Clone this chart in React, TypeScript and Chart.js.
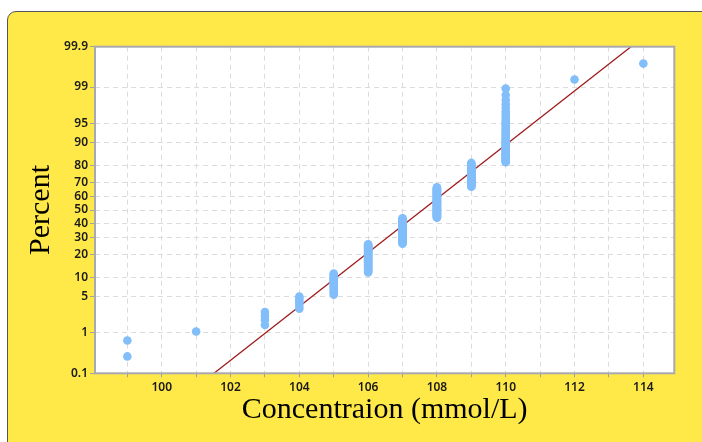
import { useEffect, useRef } from 'react';
import { Chart, registerables } from 'chart.js';

Chart.register(...registerables);

// Observed concentration values and how many observations sit at each value
const concentrations = [99, 101, 103, 104, 105, 106, 107, 108, 109, 110, 112, 114];
const counts = [2, 1, 4, 6, 16, 36, 45, 57, 37, 44, 1, 1];

// Probability-axis tick labels (percent)
const percentTicks = [0.1, 1, 5, 10, 20, 30, 40, 50, 60, 70, 80, 90, 95, 99, 99.9];
const percentLabels = ['0.1', '1', '5', '10', '20', '30', '40', '50', '60', '70', '80', '90', '95', '99', '99.9'];

// x-axis grid positions and labels
const xGridValues = [99, 100, 101, 102, 103, 104, 105, 106, 107, 108, 109, 110, 111, 112, 113, 114];
const xLabelValues = [100, 102, 104, 106, 108, 110, 112, 114];

// Fitted normal line (mean, standard deviation)
const fitMean = 107.58;
const fitSd = 1.961;

const xMin = 98.06;
const xMax = 114.9;

// inverse standard normal CDF (Acklam)
function qnorm(p: number): number {
  const a = [-3.969683028665376e1, 2.209460984245205e2, -2.759285104469687e2, 1.38357751867269e2, -3.066479806614716e1, 2.506628277459239];
  const b = [-5.447609879822406e1, 1.615858368580409e2, -1.556989798598866e2, 6.680131188771972e1, -1.328068155288572e1];
  const c = [-7.784894002430293e-3, -3.223964580411365e-1, -2.400758277161838, -2.549732539343734, 4.374664141464968, 2.938163982698783];
  const d = [7.784695709041462e-3, 3.224671290700398e-1, 2.445134137142996, 3.754408661907416];
  const plow = 0.02425;
  const phigh = 1 - plow;
  if (p < plow) {
    const q = Math.sqrt(-2 * Math.log(p));
    return (((((c[0] * q + c[1]) * q + c[2]) * q + c[3]) * q + c[4]) * q + c[5]) / ((((d[0] * q + d[1]) * q + d[2]) * q + d[3]) * q + 1);
  }
  if (p <= phigh) {
    const q = p - 0.5;
    const r = q * q;
    return ((((((a[0] * r + a[1]) * r + a[2]) * r + a[3]) * r + a[4]) * r + a[5]) * q) / (((((b[0] * r + b[1]) * r + b[2]) * r + b[3]) * r + b[4]) * r + 1);
  }
  const q = Math.sqrt(-2 * Math.log(1 - p));
  return -(((((c[0] * q + c[1]) * q + c[2]) * q + c[3]) * q + c[4]) * q + c[5]) / ((((d[0] * q + d[1]) * q + d[2]) * q + d[3]) * q + 1);
}

const plotFrame = {
  id: 'plotFrame',
  beforeDraw(chart: any) {
    const { ctx, chartArea } = chart;
    ctx.save();
    ctx.fillStyle = '#ffffff';
    ctx.fillRect(chartArea.left, chartArea.top, chartArea.width, chartArea.height);
    ctx.restore();
  },
  afterDraw(chart: any) {
    const { ctx, chartArea } = chart;
    ctx.save();
    ctx.strokeStyle = '#a9a9b1';
    ctx.lineWidth = 2;
    ctx.strokeRect(chartArea.left, chartArea.top, chartArea.width, chartArea.height);
    ctx.restore();
  },
};

export default function App() {
  const canvasRef = useRef<HTMLCanvasElement | null>(null);

  useEffect(() => {
    if (!canvasRef.current) return;
    const n = counts.reduce((s, v) => s + v, 0);
    const points: { x: number; y: number }[] = [];
    let rank = 0;
    concentrations.forEach((x, i) => {
      for (let k = 0; k < counts[i]; k++) {
        rank += 1;
        points.push({ x, y: qnorm((rank - 0.3) / (n + 0.4)) });
      }
    });
    const zMin = qnorm(percentTicks[0] / 100);
    const zMax = qnorm(percentTicks[percentTicks.length - 1] / 100);
    const fitLine = [
      { x: fitMean + zMin * fitSd, y: zMin },
      { x: fitMean + zMax * fitSd, y: zMax },
    ];

    const tickFont = { family: '"Noto Sans", sans-serif', size: 12, weight: 600 as any };
    const titleFont = { family: '"Liberation Serif", "Times New Roman", serif', size: 30, weight: 'normal' as any };

    const chart = new Chart(canvasRef.current, {
      type: 'scatter',
      data: {
        datasets: [
          {
            data: points,
            backgroundColor: 'rgb(130,190,250)',
            borderWidth: 0,
            pointRadius: 4.3,
            showLine: false,
          },
          {
            data: fitLine,
            showLine: true,
            borderColor: '#9e1a1a',
            borderWidth: 1.3,
            pointRadius: 0,
          },
        ],
      },
      options: {
        animation: false,
        responsive: false,
        devicePixelRatio: 1,
        layout: { padding: { left: 0, right: 27.7, top: 46.7, bottom: 8.7 } },
        plugins: { legend: { display: false }, tooltip: { enabled: false } },
        scales: {
          x: {
            type: 'linear',
            min: xMin,
            max: xMax,
            afterBuildTicks: (s: any) => {
              s.ticks = xGridValues.map((v) => ({ value: v }));
            },
            afterFit: (s: any) => {
              s.height = 60;
            },
            ticks: {
              autoSkip: false,
              maxRotation: 0,
              font: tickFont,
              color: '#1a1a1a',
              padding: 3,
              callback: (v: any) => (xLabelValues.includes(Number(v)) ? String(v) : ''),
            },
            grid: { color: '#dcdcdc', lineWidth: 1, tickLength: 4, tickColor: '#a0a0a0' },
            border: { display: false, dash: [5, 4] },
            title: {
              display: true,
              text: 'Concentraion (mmol/L)',
              font: titleFont,
              color: '#000',
              padding: { top: 0, bottom: 5 },
            },
          },
          y: {
            type: 'linear',
            min: zMin,
            max: zMax,
            afterBuildTicks: (s: any) => {
              s.ticks = percentTicks.map((p) => ({ value: qnorm(p / 100) }));
            },
            afterFit: (s: any) => {
              s.width = 95;
            },
            ticks: {
              autoSkip: false,
              font: tickFont,
              color: '#1a1a1a',
              padding: 2,
              callback: (_v: any, i: number) => percentLabels[i],
            },
            grid: { color: '#dcdcdc', lineWidth: 1, tickLength: 5, tickColor: '#a0a0a0' },
            border: { display: false, dash: [5, 4] },
            title: {
              display: true,
              text: 'Percent',
              font: titleFont,
              color: '#000',
              padding: { top: 23, bottom: 0 },
            },
          },
        },
      },
      plugins: [plotFrame],
    });
    return () => chart.destroy();
  }, []);

  return (
    <div style={{ position: 'fixed', left: 0, top: 0, width: 702, height: 442, overflow: 'hidden', background: '#ffffff' }}>
      <div
        style={{
          position: 'absolute',
          left: 7,
          top: 11,
          width: 720,
          height: 460,
          background: 'rgb(255,233,72)',
          border: '1px solid #555555',
          borderRadius: 9,
          boxSizing: 'border-box',
        }}
      />
      <canvas ref={canvasRef} width={702} height={442} style={{ position: 'absolute', left: 0, top: 0, width: 702, height: 442 }} />
    </div>
  );
}
